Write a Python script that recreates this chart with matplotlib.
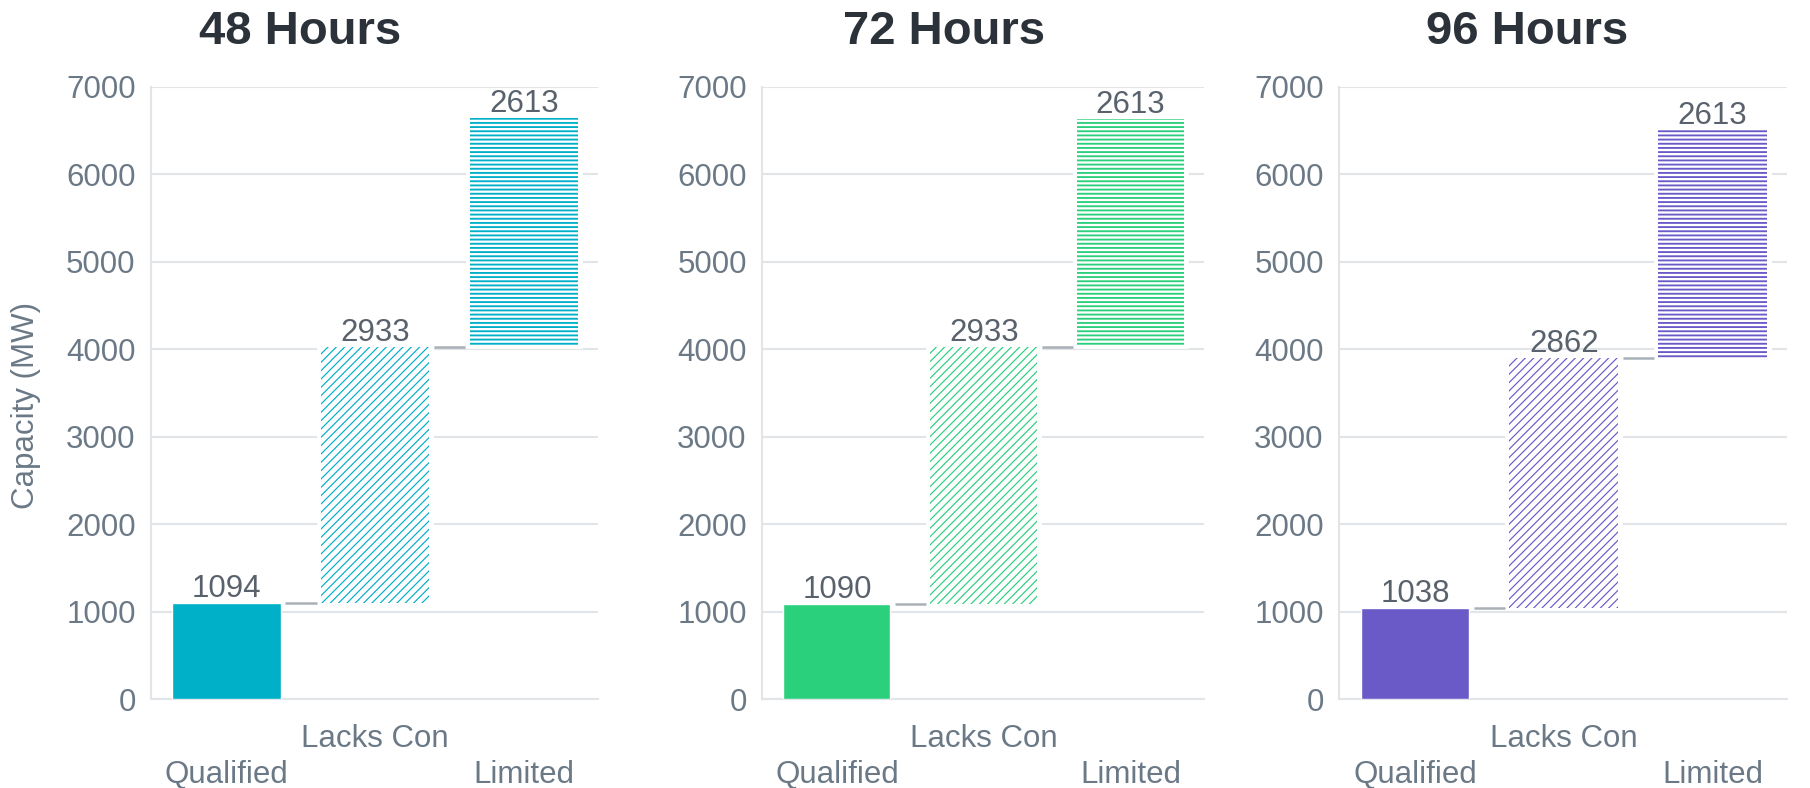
import matplotlib
matplotlib.use("Agg")
import matplotlib.pyplot as plt
import numpy as np

plt.rcParams['font.family'] = ['Liberation Sans', 'DejaVu Sans']

# Data
categories = ["Qualified", "Lacks Con", "Limited"]
panel_titles = ["48 Hours", "72 Hours", "96 Hours"]
qualified = [1094, 1090, 1038]
lacks_con = [2933, 2933, 2862]
limited = [2613, 2613, 2613]
panel_colors = ["#00afc8", "#2ad07c", "#6a5ac8"]
yticks = [0, 1000, 2000, 3000, 4000, 5000, 6000, 7000]

TICK_COLOR = "#6b7987"
VALUE_COLOR = "#59626c"
TITLE_COLOR = "#2b3239"
GRID_COLOR = "#e2e5e8"
CONNECTOR_COLOR = "#a9b1b8"

fig = plt.figure(figsize=(18.10, 7.88), dpi=100)

# axes boxes in figure fractions (left, width)
boxes = [(0.0834, 0.247), (0.421, 0.2442), (0.7398, 0.2475)]
bottom, height = 0.1129, 0.7767
title_x = [0.1660, 0.5215, 0.8437]

bar_w = 0.73
hatches = [None, "////", "----"]
hatch_lw = [None, 0.85, 1.35]

for p in range(3):
    left, width = boxes[p]
    ax = fig.add_axes([left, bottom, width, height])
    vals = [qualified[p], lacks_con[p], limited[p]]
    bases = [0, qualified[p], qualified[p] + lacks_con[p]]
    color = panel_colors[p]
    x = np.arange(len(categories))

    for i in range(3):
        if hatches[i] is None:
            ax.bar(x[i], vals[i], bottom=bases[i], width=bar_w, color=color,
                   edgecolor="white", linewidth=1.0, zorder=3)
        else:
            # white backing that masks the grid around the hatched bar
            ax.bar(x[i], vals[i], bottom=bases[i], width=bar_w + 0.04,
                   color="white", edgecolor="white", linewidth=2, zorder=2.5)
            with plt.rc_context({"hatch.linewidth": hatch_lw[i]}):
                ax.bar(x[i], vals[i], bottom=bases[i], width=bar_w,
                       color="white", edgecolor=color, linewidth=0,
                       hatch=hatches[i], zorder=3)
        top = bases[i] + vals[i]
        ax.annotate(f"{vals[i]}", xy=(x[i], top), xytext=(0, 6),
                    textcoords="offset pixels", ha="center", va="baseline",
                    fontsize=22.5, color=VALUE_COLOR, zorder=5)

    # connectors between consecutive bars
    for i in range(2):
        level = bases[i] + vals[i]
        ax.plot([x[i] + bar_w / 2 + 0.03, x[i + 1] - bar_w / 2 - 0.03],
                [level, level], color=CONNECTOR_COLOR, lw=1.8,
                solid_capstyle="butt", zorder=4)

    ax.set_xlim(-0.51, 2.5)
    ax.set_ylim(0, 7000)
    ax.set_yticks(yticks)
    ax.set_yticklabels([str(t) for t in yticks])
    ax.tick_params(axis="y", length=0, pad=11, labelsize=22.5,
                   labelcolor=TICK_COLOR)
    ax.set_xticks([])
    ax.grid(axis="y", color=GRID_COLOR, lw=1.5, zorder=0)
    ax.set_axisbelow(True)
    for s in ["top", "right"]:
        ax.spines[s].set_visible(False)
    ax.spines["left"].set_color(GRID_COLOR)
    ax.spines["left"].set_linewidth(1.5)
    ax.spines["bottom"].set_color(GRID_COLOR)
    ax.spines["bottom"].set_linewidth(1.5)

    # staggered category labels
    offsets = [72, 36, 72]
    for i, name in enumerate(categories):
        ax.annotate(name, xy=(x[i], 0), xycoords=ax.get_xaxis_transform(),
                    xytext=(0, -offsets[i]), textcoords="offset pixels",
                    ha="center", va="center_baseline", fontsize=22.5,
                    color=TICK_COLOR, annotation_clip=False)

    if p == 0:
        ax.set_ylabel("Capacity (MW)", fontsize=22.5, color=TICK_COLOR)
        ax.yaxis.set_label_coords(-0.245, 0.48)

    fig.text(title_x[p], 1 - 32 / 788, panel_titles[p], ha="center",
             va="center", fontsize=34, fontweight="bold", color=TITLE_COLOR)

fig.savefig("out.png", dpi=100, facecolor="white")
